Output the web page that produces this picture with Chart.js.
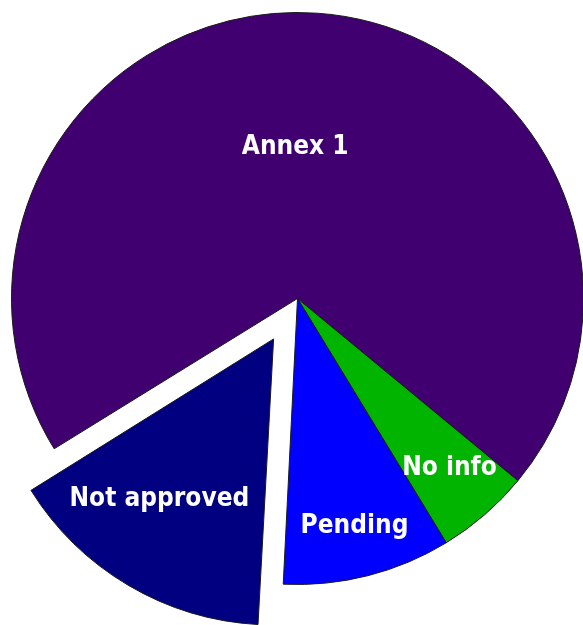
<!DOCTYPE html>
<html>
<head>
<meta charset="utf-8">
<script src="https://cdn.jsdelivr.net/npm/chart.js@4/dist/chart.umd.min.js"></script>
<style>
  html, body { margin: 0; padding: 0; background: #ffffff; }
  #wrap { width: 583px; height: 625px; }
</style>
</head>
<body>
<div id="wrap"><canvas id="c" width="583" height="625"></canvas></div>
<script>
const categories = ['Annex 1', 'No info', 'Pending', 'Not approved'];
const values = [69.8, 5.3, 9.5, 15.4];
const sliceColors = ['#400070', '#00b400', '#0000ff', '#000080'];
const explode = [0, 0, 0, 188];

// label placement: radial fraction and small angular tweak (deg)
const labelPlacement = [
  { frac: 0.54, dAngle: -4.8 },
  { frac: 0.79, dAngle: -1.4 },
  { frac: 0.81, dAngle: 0 },
  { frac: 0.70, dAngle: 5.4 }
];

const keepRadius = {
  id: 'keepRadius',
  afterDatasetUpdate(chart, args) {
    const meta = chart.getDatasetMeta(args.index);
    meta.data.forEach(el => {
      const off = ((el.options && el.options.offset) || 0) / 4;
      if (off) {
        el.outerRadius -= off * (1 - Math.sin(Math.min(Math.PI, el.circumference)));
      }
    });
  }
};

const sliceLabels = {
  id: 'sliceLabels',
  afterDatasetsDraw(chart) {
    const ctx = chart.ctx;
    const meta = chart.getDatasetMeta(0);
    ctx.save();
    ctx.font = 'bold 26px "DejaVu Sans Condensed", "DejaVu Sans", sans-serif';
    ctx.fillStyle = '#ffffff';
    ctx.textAlign = 'center';
    ctx.textBaseline = 'alphabetic';
    meta.data.forEach((el, i) => {
      const mid = (el.startAngle + el.endAngle) / 2;
      const off = ((el.options && el.options.offset) || 0) / 4;
      const cx = el.x + Math.cos(mid) * off;
      const cy = el.y + Math.sin(mid) * off;
      const p = labelPlacement[i];
      const a = mid + p.dAngle * Math.PI / 180;
      const r = el.outerRadius * p.frac;
      const x = cx + Math.cos(a) * r;
      const y = cy + Math.sin(a) * r;
      ctx.fillText(categories[i], x, y + 9.5);
    });
    ctx.restore();
  }
};

new Chart(document.getElementById('c'), {
  type: 'pie',
  data: {
    labels: categories,
    datasets: [{
      data: values,
      backgroundColor: sliceColors,
      borderColor: '#1a1a1a',
      borderWidth: 1,
      offset: explode,
      hoverOffset: 0,
      clip: false
    }]
  },
  options: {
    responsive: false,
    devicePixelRatio: 1,
    animation: false,
    rotation: 238.3,
    radius: 286,
    layout: { padding: { left: 12, right: 0, top: 0, bottom: 28 } },
    events: [],
    plugins: {
      legend: { display: false },
      tooltip: { enabled: false },
      title: { display: false }
    }
  },
  plugins: [keepRadius, sliceLabels]
});
</script>
</body>
</html>
